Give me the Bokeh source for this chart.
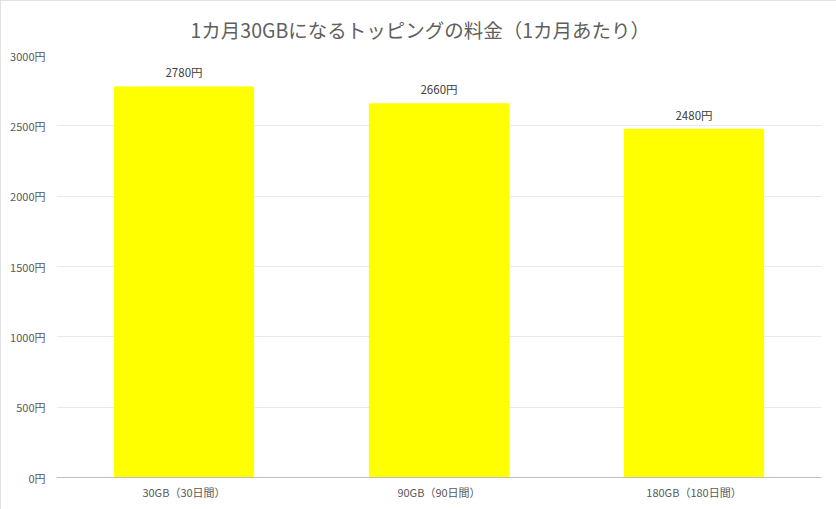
from bokeh.plotting import figure
from bokeh.models import ColumnDataSource, FixedTicker, PrintfTickFormatter, Range1d
from bokeh.core.properties import value
from bokeh.embed import file_html
from bokeh.resources import INLINE

# data
categories = ["30GB（30日間）", "90GB（90日間）", "180GB（180日間）"]
prices = [2780, 2660, 2480]
price_labels = ["2780円", "2660円", "2480円"]
y_ticks = [0, 500, 1000, 1500, 2000, 2500, 3000]

FONT = "Noto Sans CJK JP"

source = ColumnDataSource(data=dict(cat=categories, price=prices, label=price_labels))

p = figure(
    x_range=categories,
    y_range=Range1d(0, 3000),
    width=836,
    height=509,
    title="1カ月30GBになるトッピングの料金（1カ月あたり）",
    toolbar_location=None,
    output_backend="svg",
    min_border_left=56,
    min_border_right=15,
    min_border_bottom=32,
    min_border_top=55,
)
# thin grey frame round the whole chart, like the reference
p.styles = {"outline": "1px solid #d9d9d9", "outline-offset": "-1px"}

# title
p.title.align = "left"
p.title.offset = 134
p.title.text_font = FONT
p.title.text_font_size = "19.5px"
p.title.text_font_style = "normal"
p.title.text_color = "#5f5f5f"
p.title.standoff = 24

# bars
p.vbar(x="cat", top="price", width=0.55, source=source,
       fill_color="#ffff00", line_color=None)

# value labels above bars
p.text(x="cat", y="price", text="label", source=source,
       text_align="center", text_baseline="bottom", y_offset=-6,
       text_font=value(FONT), text_font_size="11.5px", text_color="#404040")

# axes
p.x_range.range_padding = 0
p.yaxis.ticker = FixedTicker(ticks=y_ticks)
p.yaxis.formatter = PrintfTickFormatter(format="%d円")
p.yaxis.axis_line_color = None
p.yaxis.major_tick_line_color = None
p.yaxis.minor_tick_line_color = None
p.yaxis.major_tick_out = 0
p.yaxis.major_label_text_font = FONT
p.yaxis.major_label_text_font_size = "11px"
p.yaxis.major_label_text_color = "#595959"
p.yaxis.major_label_standoff = 11

p.xaxis.axis_line_color = "#bfbfbf"
p.xaxis.axis_line_width = 1
p.xaxis.major_tick_line_color = None
p.xaxis.minor_tick_line_color = None
p.xaxis.major_tick_out = 0
p.xaxis.major_label_text_font = FONT
p.xaxis.major_label_text_font_size = "11px"
p.xaxis.major_label_text_color = "#595959"
p.xaxis.major_label_standoff = 6

# grid
p.xgrid.grid_line_color = None
p.ygrid.grid_line_color = "#e9e9e9"
p.outline_line_color = None

open("out.html", "w").write(file_html(p, INLINE))
